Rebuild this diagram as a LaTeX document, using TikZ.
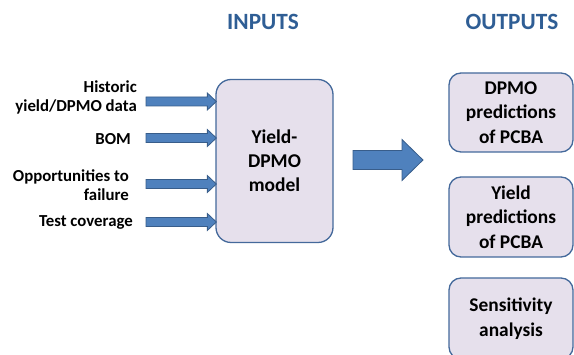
\documentclass[tikz,border=0pt]{standalone}
\usepackage{fontspec}
\setmainfont{Carlito}
\definecolor{boxfill}{HTML}{E6E0EC}
\definecolor{boxline}{HTML}{44699B}
\definecolor{arrfill}{HTML}{4F81BD}
\definecolor{arrline}{HTML}{385D8A}
\definecolor{headcol}{HTML}{2F5E95}
\tikzset{
  roundbox/.style={draw=boxline, line width=1.3pt, fill=boxfill, rounded corners=#1, align=center, inner sep=0pt, font=\bfseries\fontsize{19.4}{24.5}\selectfont},
  inlabel/.style={anchor=east, align=right, inner sep=0pt, font=\bfseries\fontsize{16.8}{19}\selectfont},
  heading/.style={text=headcol, inner sep=0pt, font=\bfseries\fontsize{23.3}{27}\selectfont},
  blockarrow/.style n args={3}{fill=arrfill, draw=arrline, line width=0.8pt, line join=miter,
    to path={([yshift=#1]\tikztostart) -- ([xshift=-#3,yshift=#1]\tikztotarget) -- ([xshift=-#3,yshift=#2]\tikztotarget) -- (\tikztotarget) -- ([xshift=-#3,yshift=-#2]\tikztotarget) -- ([xshift=-#3,yshift=-#1]\tikztotarget) -- ([yshift=-#1]\tikztostart) -- cycle}},
  smallarrow/.style={blockarrow={4.5pt}{8.5pt}{9pt}},
  bigarrow/.style={blockarrow={9.5pt}{20.5pt}{21pt}}
}
\begin{document}
\begin{tikzpicture}[x=1pt,y=-1pt]
\useasboundingbox (0,0) rectangle (574,355);
\clip (0,0) rectangle (574,355);
\node[heading] (inh) at (263,22) {INPUTS};
\node[heading] (outh) at (512,22) {OUTPUTS};
\node[roundbox=15pt, minimum width=117pt, minimum height=163pt, font=\bfseries\fontsize{19.5}{24}\selectfont] (model) at (274.5,161) {Yield-\\DPMO\\model};
\node[roundbox=12pt, minimum width=124pt, minimum height=79pt] (o1) at (511,112.5) {DPMO\\predictions\\of PCBA};
\node[roundbox=12pt, minimum width=124pt, minimum height=80pt] (o2) at (511,217) {Yield\\predictions\\of PCBA};
\node[roundbox=12pt, minimum width=124pt, minimum height=81pt] (o3) at (511,318.5) {Sensitivity\\analysis};
\node[inlabel] (l1) at (137,97) {Historic\\yield/DPMO data};
\node[inlabel] (l2) at (131,139) {BOM};
\node[inlabel] (l3) at (129,185) {Opportunities to\\failure};
\node[inlabel] (l4) at (133,222) {Test coverage};
\coordinate (a1s) at (146,101.5);
\coordinate (a2s) at (146,138);
\coordinate (a3s) at (146,184);
\coordinate (a4s) at (146,222);
\coordinate (a1e) at ([xshift=1pt]a1s -| model.west);
\coordinate (a2e) at ([xshift=1pt]a2s -| model.west);
\coordinate (a3e) at ([xshift=1pt]a3s -| model.west);
\coordinate (a4e) at ([xshift=1pt]a4s -| model.west);
\draw[smallarrow] (a1s) to (a1e);
\draw[smallarrow] (a2s) to (a2e);
\draw[smallarrow] (a3s) to (a3e);
\draw[smallarrow] (a4s) to (a4e);
\coordinate (bs) at (353,160);
\coordinate (be) at (423,160);
\draw[bigarrow] (bs) to (be);
\end{tikzpicture}
\end{document}
